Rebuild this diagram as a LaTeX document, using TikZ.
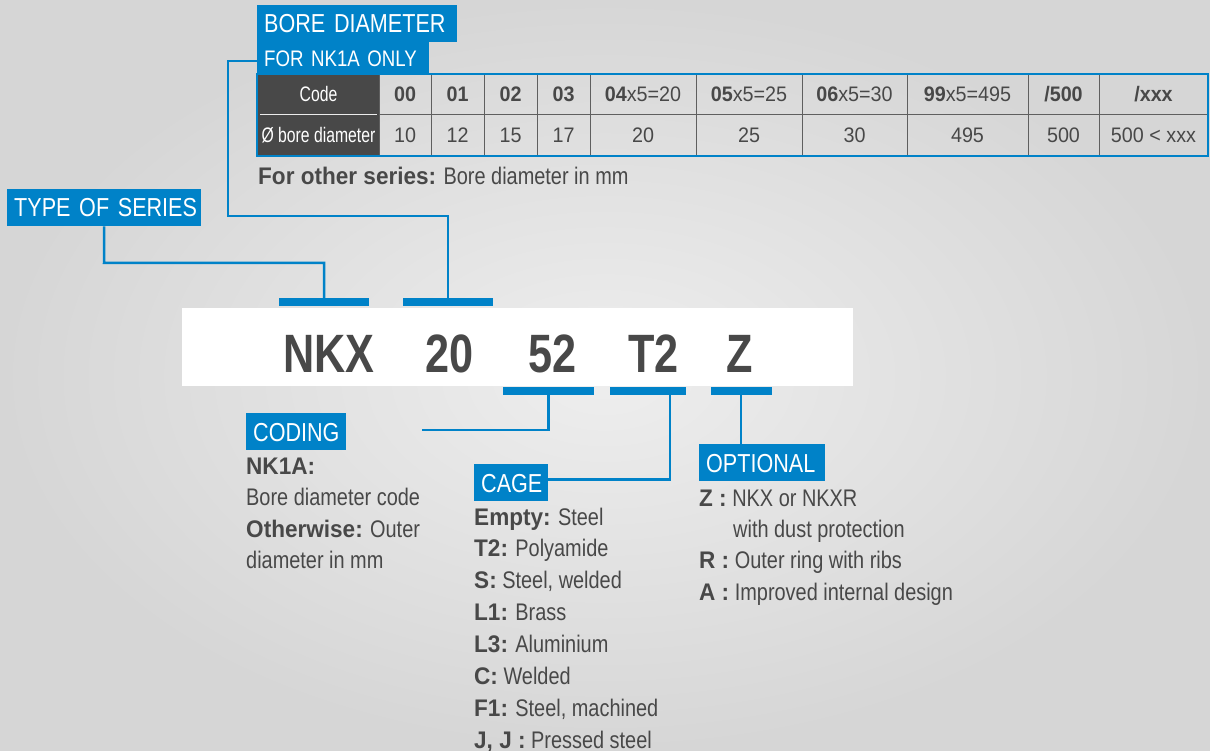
\documentclass[tikz,border=0pt]{standalone}
\usepackage{fontspec}
\setmainfont{Liberation Sans}[FakeStretch=0.83]
\newfontfamily\bfam{Liberation Sans}[FakeStretch=0.94]
\newfontfamily\codefam{Liberation Sans}[FakeStretch=0.8]
\newfontfamily\narrowfam{Liberation Sans}[FakeStretch=0.75]
\newfontfamily\tabfam{Liberation Sans}[FakeStretch=0.94]
\newcommand\myb[1]{{\bfam\bfseries #1}}
\definecolor{bl}{RGB}{0,130,200}
\definecolor{txt}{RGB}{72,72,72}
\definecolor{dark}{RGB}{72,72,72}
\definecolor{bgin}{RGB}{238,238,238}
\definecolor{bgout}{RGB}{214,214,214}
\definecolor{grid}{RGB}{95,95,95}
\tikzset{
  hdr/.style={fill=bl, text=white, inner xsep=7pt, inner ysep=0pt, minimum height=37pt,
    text height=18.6pt, text depth=0pt, align=left, anchor=north west,
    font=\fontsize{26}{30}\selectfont},
  bar/.style={fill=bl, inner sep=0pt, minimum height=8pt},
  conn/.style={draw=bl, line width=2.5pt},
  body/.style={anchor=base west, inner sep=0pt, text=txt, font=\fontsize{24}{28}\selectfont},
  code/.style={anchor=base, inner sep=0pt, text=txt, font=\fontsize{54}{60}\selectfont\codefam\bfseries},
  cell/.style={draw=grid, line width=1pt, inner sep=0pt, minimum height=41pt,
    text height=15pt, text depth=0pt, text=txt, font=\fontsize{21}{24}\selectfont\tabfam},
  dcell/.style={inner sep=0pt, minimum height=41pt, minimum width=121pt,
    text height=15pt, text depth=0pt, text=white, font=\fontsize{21}{24}\selectfont\narrowfam}
}
\begin{document}
\begin{tikzpicture}[x=1pt,y=-1pt]
\useasboundingbox (0,0) rectangle (1210,751);
\shade[inner color=bgin, outer color=bgout] (0,0) rectangle (1210,751);

% ---- bore diameter header and table
\node[hdr, text width=186pt] (bd1) at (257,5) {\mbox{BORE DIAMETER}};
\node[hdr, text width=158pt, minimum height=32pt, text height=16pt,
      font=\fontsize{22.5}{26}\selectfont] (bd2) at (257,42) {\mbox{FOR NK1A ONLY}};

\fill[dark] (258,74) rectangle (379,156);
\node[dcell] (hcode) at (318.5,94.5) {Code};
\node[dcell] (hbore) at (318.5,135.5) {Ø bore diameter};
\draw[white!85!gray, line width=1pt] (260,115) -- (377,115);

\foreach \l/\r/\c/\v [count=\i] in {
  379/431/{\myb{00}}/10,
  431/484/{\myb{01}}/12,
  484/537/{\myb{02}}/15,
  537/590/{\myb{03}}/17,
  590/696/{\myb{04}x5=20}/20,
  696/802/{\myb{05}x5=25}/25,
  802/907/{\myb{06}x5=30}/30,
  907/1028/{\myb{99}x5=495}/495,
  1028/1099/{\myb{/500}}/500,
  1099/1208/{\myb{/xxx}}/{500 < xxx}} {
  \node[cell, minimum width={(\r-\l)*1pt}] (c\i) at ({(\l+\r)/2},94.5) {\c};
  \node[cell, minimum width={(\r-\l)*1pt}] (v\i) at ({(\l+\r)/2},135.5) {\v};
}
\draw[bl, line width=2pt] (257,74) rectangle (1208,156);

\node[body] (other) at (258,185) {\myb{For other series:} Bore diameter in mm};

% ---- type of series
\node[hdr, text width=180pt] (ts) at (7,189) {\mbox{TYPE OF SERIES}};

% ---- code strip
\node[fill=white, inner sep=0pt, minimum width=671pt, minimum height=78pt] (strip) at (517.5,347) {};
\node[code] (nkx) at (329,372) {NKX};
\node[code] (n20) at (450,372) {20};
\node[code] (n52) at (552.5,372) {52};
\node[code] (nt2) at (653.5,372) {T2};
\node[code] (nz) at (740,372) {Z};

\node[bar, minimum width=90pt] (bar1) at (324,302) {};
\node[bar, minimum width=90pt] (bar2) at (448,302) {};
\node[bar, minimum width=91pt] (bar52) at (548.5,391) {};
\node[bar, minimum width=76pt] (bart2) at (648,391) {};
\node[bar, minimum width=61pt] (barz) at (741,391) {};

% ---- lower headers
\node[hdr, text width=86pt] (coding) at (246,413) {\mbox{CODING}};
\node[hdr, text width=60pt] (cage) at (474,464) {\mbox{CAGE}};
\node[hdr, text width=112pt] (opt) at (699,444) {\mbox{OPTIONAL}};

% ---- connectors
\coordinate (k0) at (104,263);
\draw[conn] (ts.south) -- (k0) -| (bar1.north);
\coordinate (k1) at (228,216);
\draw[conn] ([yshift=-3pt]bd2.west) -| (k1) -| (bar2.north);
\coordinate (cend) at (422,430);
\draw[conn] (bar52.south) |- (cend);
\coordinate (t2d) at (670,395);
\draw[conn] ([yshift=3pt]cage.east) -| (t2d);
\draw[conn] (barz.south) -- (barz.south |- opt.north);

% ---- coding text
\node[body] (co1) at (246,474) {\myb{NK1A:}};
\node[body] (co2) at (246,505.5) {Bore diameter code};
\node[body] (co3) at (246,537) {\myb{Otherwise:} Outer};
\node[body] (co4) at (246,568.5) {diameter in mm};

% ---- cage text
\node[body] (ca1) at (474,525) {\myb{Empty:} Steel};
\node[body] (ca2) at (474,556) {\myb{T2:} Polyamide};
\node[body] (ca3) at (474,588) {\myb{S:} Steel, welded};
\node[body] (ca4) at (474,620) {\myb{L1:} Brass};
\node[body] (ca5) at (474,652) {\myb{L3:} Aluminium};
\node[body] (ca6) at (474,684) {\myb{C:} Welded};
\node[body] (ca7) at (474,716) {\myb{F1:} Steel, machined};
\node[body] (ca8) at (474,748) {\myb{J, J :} Pressed steel};

% ---- optional text
\node[body] (op1) at (699,506) {\myb{Z :} NKX or NKXR};
\node[body] (op2) at (733,537) {with dust protection};
\node[body] (op3) at (699,568.5) {\myb{R :} Outer ring with ribs};
\node[body] (op4) at (699,600) {\myb{A :} Improved internal design};
\end{tikzpicture}
\end{document}
